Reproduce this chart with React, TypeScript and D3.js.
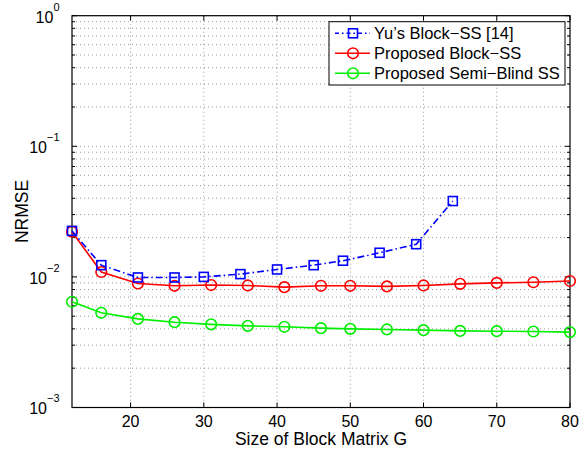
import React, { useRef, useEffect } from 'react';
import * as d3 from 'd3';

// block sizes (x) for each curve
const yuX = [12, 16, 21, 26, 30, 35, 40, 45, 49, 54, 59, 64];
const yuY = [0.0225, 0.0123, 0.0099, 0.0099, 0.01, 0.0105, 0.0114, 0.0123, 0.0133, 0.0153, 0.0178, 0.0381];

const propX = [12, 16, 21, 26, 31, 36, 41, 46, 50, 55, 60, 65, 70, 75, 80];
const blockY = [0.0222, 0.0109, 0.0089, 0.00855, 0.00866, 0.0086, 0.00835, 0.00855, 0.00855, 0.00846, 0.0086, 0.00885, 0.009, 0.0091, 0.0093];
const semiY = [0.00645, 0.00531, 0.00477, 0.0045, 0.00433, 0.00422, 0.00415, 0.00405, 0.004, 0.00396, 0.00391, 0.00386, 0.00384, 0.00382, 0.00378];

const xTicks = [20, 30, 40, 50, 60, 70, 80];
const yDecades = [-3, -2, -1, 0];
const legendLabels = ["Yu\u2019s Block\u2212SS [14]", "Proposed Block\u2212SS", "Proposed Semi\u2212Blind SS"];

function App() {
  const canvas = useRef<SVGSVGElement>(null);

  useEffect(() => {
    const W = 584, H = 451;
    const margin = { top: 15.7, right: 14, bottom: 43.5, left: 72 };
    const width = W - margin.left - margin.right;
    const height = H - margin.top - margin.bottom;
    const font = 'Liberation Sans, Arial, Helvetica, sans-serif';

    const root = d3.select(canvas.current);
    root.selectAll('*').remove();
    const svg = root.append('g').attr('transform', `translate(${margin.left},${margin.top})`);

    const x = d3.scaleLinear().domain([12, 80]).range([0, width]);
    const y = d3.scaleLog().domain([1e-3, 1]).range([height, 0]);

    // minor log values
    const minor: number[] = [];
    for (let k = -3; k < 0; k++) for (let m = 2; m <= 9; m++) minor.push(m * Math.pow(10, k));
    const majors = yDecades.map(d => Math.pow(10, d));

    // grid
    const grid = svg.append('g').attr('stroke', '#555').attr('stroke-width', 0.6).attr('stroke-dasharray', '1,3');
    grid.selectAll('.gx').data(xTicks.filter(t => t < 80)).enter().append('line')
      .attr('x1', d => x(d)).attr('x2', d => x(d)).attr('y1', 0).attr('y2', height);
    grid.selectAll('.gy').data(minor.concat(majors.slice(1, 3))).enter().append('line')
      .attr('x1', 0).attr('x2', width).attr('y1', d => y(d)).attr('y2', d => y(d));

    // ticks (inward, all four sides)
    const ticks = svg.append('g').attr('stroke', '#000').attr('stroke-width', 1);
    xTicks.forEach(t => {
      ticks.append('line').attr('x1', x(t)).attr('x2', x(t)).attr('y1', height).attr('y2', height - 5);
      ticks.append('line').attr('x1', x(t)).attr('x2', x(t)).attr('y1', 0).attr('y2', 5);
    });
    majors.forEach(t => {
      ticks.append('line').attr('x1', 0).attr('x2', 5).attr('y1', y(t)).attr('y2', y(t));
      ticks.append('line').attr('x1', width).attr('x2', width - 5).attr('y1', y(t)).attr('y2', y(t));
    });
    minor.forEach(t => {
      ticks.append('line').attr('x1', 0).attr('x2', 3).attr('y1', y(t)).attr('y2', y(t));
      ticks.append('line').attr('x1', width).attr('x2', width - 3).attr('y1', y(t)).attr('y2', y(t));
    });

    // box
    svg.append('rect').attr('x', 0).attr('y', 0).attr('width', width).attr('height', height)
      .attr('fill', 'none').attr('stroke', '#000').attr('stroke-width', 1.2);

    // x tick labels
    svg.selectAll('.xl').data(xTicks).enter().append('text')
      .attr('x', d => x(d)).attr('y', height + 20)
      .attr('text-anchor', 'middle').attr('font-family', font).attr('font-size', 16)
      .text(d => d);

    // y tick labels 10^k
    yDecades.forEach(k => {
      const t = svg.append('text').attr('x', -12.5).attr('y', y(Math.pow(10, k)) + 7)
        .attr('text-anchor', 'end').attr('font-family', font).attr('font-size', 16);
      t.append('tspan').text('10');
      t.append('tspan').attr('dy', -12).attr('font-size', 11).text(k === 0 ? '0' : '\u2212' + (-k));
    });

    // axis titles
    svg.append('text').attr('x', width / 2).attr('y', height + 38)
      .attr('text-anchor', 'middle').attr('font-family', font).attr('font-size', 17.5)
      .text('Size of Block Matrix G');
    svg.append('text').attr('transform', `translate(-43.7,${211.5 - margin.top}) rotate(-90)`)
      .attr('text-anchor', 'middle').attr('font-family', font).attr('font-size', 17.5)
      .text('NRMSE');

    const line = d3.line<[number, number]>().x(d => x(d[0])).y(d => y(d[1]));

    const series = [
      { xs: yuX, ys: yuY, color: '#0000ff', dash: '7,3,1.5,3', marker: 'square' },
      { xs: propX, ys: blockY, color: '#ff0000', dash: null, marker: 'circle' },
      { xs: propX, ys: semiY, color: '#00ee00', dash: null, marker: 'circle' },
    ];

    const drawMarker = (g: any, cx: number, cy: number, s: any) => {
      if (s.marker === 'square') {
        g.append('rect').attr('x', cx - 4.5).attr('y', cy - 4.5).attr('width', 9).attr('height', 9)
          .attr('fill', 'none').attr('stroke', s.color).attr('stroke-width', 1.6);
      } else {
        g.append('circle').attr('cx', cx).attr('cy', cy).attr('r', 5.3)
          .attr('fill', 'none').attr('stroke', s.color).attr('stroke-width', 1.6);
      }
    };

    // semi-blind first, then red, then blue on top
    [2, 1, 0].forEach(i => {
      const s = series[i];
      const pts = s.xs.map((v, j) => [v, s.ys[j]] as [number, number]);
      const g = svg.append('g');
      g.append('path').datum(pts).attr('d', line).attr('fill', 'none')
        .attr('stroke', s.color).attr('stroke-width', 1.6)
        .attr('stroke-dasharray', s.dash);
      pts.forEach(p => drawMarker(g, x(p[0]), y(p[1]), s));
    });

    // legend
    const lg = svg.append('g').attr('transform', `translate(${329 - margin.left},${21.7 - margin.top})`);
    lg.append('rect').attr('width', 236).attr('height', 63.3)
      .attr('fill', '#fff').attr('stroke', '#000').attr('stroke-width', 1);
    legendLabels.forEach((lab, i) => {
      const s = series[i];
      const ly = 11.6 + i * 20;
      lg.append('line').attr('x1', 6).attr('x2', 41).attr('y1', ly).attr('y2', ly)
        .attr('stroke', s.color).attr('stroke-width', 1.6).attr('stroke-dasharray', s.dash ? '4,3,1.5,3' : null);
      drawMarker(lg, 24, ly, s);
      lg.append('text').attr('x', 45).attr('y', ly + 6)
        .attr('font-family', font).attr('font-size', 16.5).text(lab);
    });
  }, []);

  return (
    <div>
      <svg ref={canvas} width={584} height={451}
        style={{ position: 'absolute', left: 0, top: 0, background: '#fff' }} />
    </div>
  );
}

export default App;
